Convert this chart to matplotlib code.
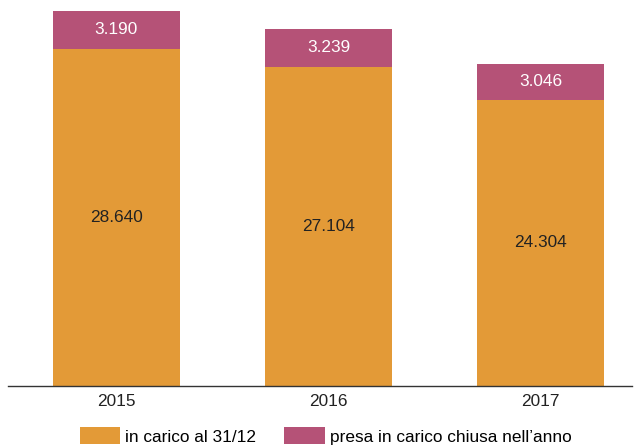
import matplotlib
matplotlib.use('Agg')
import matplotlib.pyplot as plt
import numpy as np

years = ['2015', '2016', '2017']
in_carico = [28640, 27104, 24304]
presa_chiusa = [3190, 3239, 3046]

orange = '#E39A37'
pink = '#B55277'

plt.rcParams['font.family'] = ['Liberation Sans', 'DejaVu Sans']

fig = plt.figure(figsize=(6.37, 4.45), dpi=100)
ax = fig.add_axes([8 / 637, 59 / 445, 624 / 637, 381.7 / 445])

x = np.arange(len(years))
w = 0.6
b1 = ax.bar(x, in_carico, w, color=orange, label='in carico al 31/12')
b2 = ax.bar(x, presa_chiusa, w, bottom=in_carico, color=pink,
            label='presa in carico chiusa nell\u2019anno')

def fmt(v):
    return f'{v:,}'.replace(',', '.')

fs = 12.4
for i in range(len(years)):
    ax.text(x[i], in_carico[i] / 2, fmt(in_carico[i]), ha='center', va='center',
            fontsize=fs, color='#222222')
    ax.text(x[i], in_carico[i] + presa_chiusa[i] / 2, fmt(presa_chiusa[i]),
            ha='center', va='center', fontsize=fs, color='white')

ax.set_xlim(-0.51, 2.43)
ax.set_ylim(0, 32400)
ax.set_xticks(x)
ax.set_xticklabels(years, fontsize=fs, color='#222222')
ax.tick_params(axis='x', length=0, pad=6)
ax.set_yticks([])
for s in ['top', 'right', 'left']:
    ax.spines[s].set_visible(False)
ax.spines['bottom'].set_color('#333333')
ax.spines['bottom'].set_linewidth(1.0)

fig.legend(handles=[b1, b2], loc='center',
           bbox_to_anchor=(0.5 + 7 / 637, 1 - 436 / 445),
           ncol=2, frameon=False, fontsize=fs, handlelength=2.35, handleheight=1.1,
           handletextpad=0.28, columnspacing=1.65, borderpad=0, borderaxespad=0)

fig.savefig('out.png', dpi=100)
